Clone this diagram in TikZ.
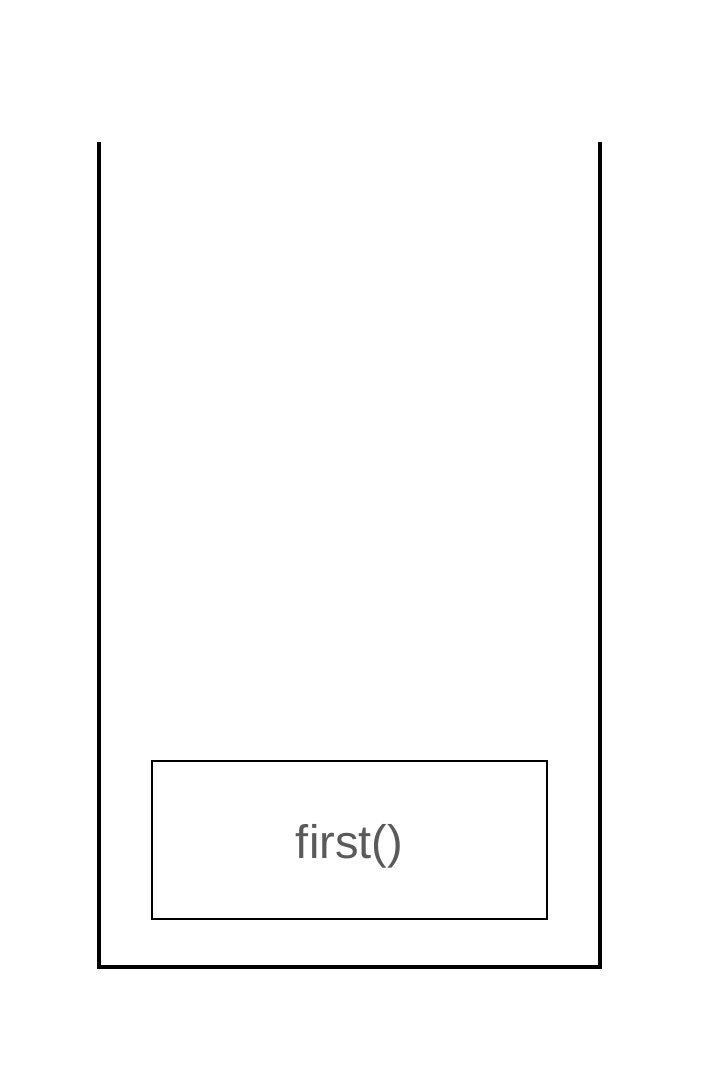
\documentclass[tikz,border=0pt]{standalone}
\usepackage{fontspec}
\setmainfont{Liberation Sans}
\usetikzlibrary{positioning}
\definecolor{labelgrey}{HTML}{5A5A5A}
\tikzset{frame/.style={draw=black, line width=2pt, minimum width=395pt, minimum height=158pt, inner sep=0pt}}

\begin{document}
\begin{tikzpicture}[x=1pt, y=-1pt]
\useasboundingbox (0,0) rectangle (720,1078);

\draw[line width=4pt] (99,142) coordinate (stack top left) -- (99,966.5) -- (600,966.5) -- (600,142) coordinate (stack top right);

\node[frame, font=\fontsize{47}{56}\selectfont, text=labelgrey] (first) at (349.5,840) {\raisebox{-6pt}[34pt][10pt]{first()}};
\end{tikzpicture}
\end{document}
